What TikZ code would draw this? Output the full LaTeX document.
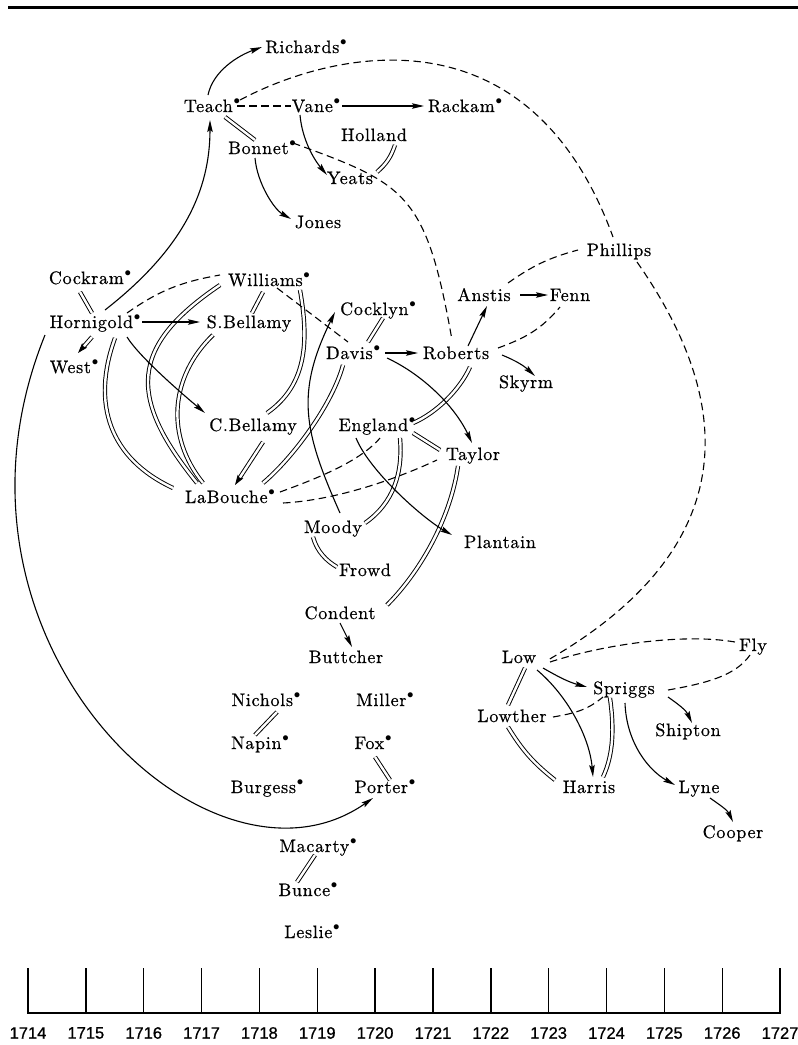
\documentclass[tikz,border=0pt]{standalone}
\usepackage{fontspec}
\usepackage{graphicx}
\usetikzlibrary{arrows.meta}
\newfontfamily\yearfont{Liberation Sans}[FakeBold=0.8]
\newfontfamily\nmfont{lmroman10-regular.otf}[LetterSpace=4,FakeBold=0.6]
\newcommand\dt{\kern0.8pt\raisebox{0.42em}{\scalebox{0.75}{$\bullet$}}}
\begin{document}
\begin{tikzpicture}[x=1pt,y=1pt,
  nm/.style={inner sep=0pt, text height=13.5pt, text depth=1.5pt,
    font=\nmfont\fontsize{18}{20}\selectfont},
  yr/.style={inner sep=0pt, font=\yearfont\fontsize{16.5}{18}\selectfont},
  con/.style={line width=1.1pt},
  tip/.style={-{Stealth[length=12pt,width=5.5pt,inset=2pt]}},
  arr/.style={con,tip},
  dsh/.style={con, dash pattern=on 7.5pt off 4.5pt},
  dbl/.style={double, double distance=2.4pt, line width=0.95pt},
  dblarr/.style={dbl,-{Stealth[length=10pt,width=6.5pt,inset=1.5pt]}},
]
\useasboundingbox (0,0) rectangle (798,-1045);
\fill[white] (0,0) rectangle (798,-1045);
\draw[line width=3pt] (8,-7) -- (798,-7);

% names
\node[nm] (richards) at (306,-47) {Richards\dt};
\node[nm] (teach) at (212,-106) {Teach\dt};
\node[nm] (vane) at (316,-106) {Vane\dt};
\node[nm] (rackam) at (465,-106) {Rackam\dt};
\node[nm] (holland) at (374,-135) {Holland};
\node[nm] (bonnet) at (262,-148) {Bonnet\dt};
\node[nm] (yeats) at (350,-178) {Yeats};
\node[nm] (jones) at (318,-222) {Jones};
\node[nm] (phillips) at (619,-250) {Phillips};
\node[nm] (cockram) at (90,-278) {Cockram\dt};
\node[nm] (williams) at (269,-280) {Williams\dt};
\node[nm] (hornigold) at (95,-322) {Hornigold\dt};
\node[nm] (sbellamy) at (249,-322) {S.Bellamy};
\node[nm] (cocklyn) at (378,-309) {Cocklyn\dt};
\node[nm] (anstis) at (484,-295) {Anstis};
\node[nm] (fenn) at (570,-295) {Fenn};
\node[nm] (davis) at (353,-353) {Davis\dt};
\node[nm] (roberts) at (456,-353) {Roberts};
\node[nm] (west) at (74,-367) {West\dt};
\node[nm] (skyrm) at (526,-382) {Skyrm};
\node[nm] (cbellamy) at (253,-425) {C.Bellamy};
\node[nm] (england) at (377,-425) {England\dt};
\node[nm] (taylor) at (473,-454) {Taylor};
\node[nm] (labouche) at (230,-497) {LaBouche\dt};
\node[nm] (moody) at (333,-527) {Moody};
\node[nm] (plantain) at (500,-542) {Plantain};
\node[nm] (frowd) at (365,-570) {Frowd};
\node[nm] (condent) at (340,-613) {Condent};
\node[nm] (buttcher) at (346,-657) {Buttcher};
\node[nm] (low) at (519,-657) {Low};
\node[nm] (fly) at (753,-645) {Fly};
\node[nm] (spriggs) at (624,-688) {Spriggs};
\node[nm] (nichols) at (266,-700) {Nichols\dt};
\node[nm] (miller) at (385,-700) {Miller\dt};
\node[nm] (lowther) at (512,-716) {Lowther};
\node[nm] (shipton) at (688,-730) {Shipton};
\node[nm] (napin) at (260,-743) {Napin\dt};
\node[nm] (fox) at (373,-743) {Fox\dt};
\node[nm] (burgess) at (267,-787) {Burgess\dt};
\node[nm] (porter) at (385,-787) {Porter\dt};
\node[nm] (harris) at (589,-787) {Harris};
\node[nm] (lyne) at (699,-787) {Lyne};
\node[nm] (cooper) at (733,-832) {Cooper};
\node[nm] (macarty) at (318,-846) {Macarty\dt};
\node[nm] (bunce) at (308,-890) {Bunce\dt};
\node[nm] (leslie) at (312,-932) {Leslie\dt};

% double lines
\draw[dbl] ([shift={(13,-11)}]teach.center) -- ([shift={(-7,8)}]bonnet.center);
\draw[dbl] ([shift={(21,-10)}]holland.center) to[bend left=15] ([shift={(27,6)}]yeats.center);
\draw[dbl] ([shift={(-10,-14)}]cockram.center) -- ([shift={(-3,9)}]hornigold.center);
\draw[dblarr] ([shift={(-3,-15)}]hornigold.center) -- ([shift={(4,14)}]west.center);
\draw[dbl] ([shift={(20,-16)}]hornigold.center) .. controls +(-110:70) and +(155:70) .. ([shift={(-57,9)}]labouche.center);
\draw[dbl] ([shift={(-49,-5)}]williams.center) .. controls +(214:110) and +(129:110) .. ([shift={(-33,14)}]labouche.center);
\draw[dbl] ([shift={(-36,-13)}]sbellamy.center) .. controls +(224:60) and +(129:60) .. ([shift={(-27,14)}]labouche.center);
\draw[dbl] ([shift={(-6,-12)}]williams.center) -- ([shift={(3,9)}]sbellamy.center);
\draw[dbl] ([shift={(31,-10)}]williams.center) .. controls +(-80:50) and +(35:50) .. ([shift={(14,12)}]cbellamy.center);
\draw[dblarr] ([shift={(10,-17)}]cbellamy.center) -- ([shift={(5,12)}]labouche.center);
\draw[dbl] ([shift={(33,14)}]labouche.center) .. controls +(40:40) and +(255:40) .. ([shift={(-10,-12)}]davis.center);
\draw[dbl] ([shift={(5,-9)}]cocklyn.center) -- ([shift={(15,11)}]davis.center);
\draw[dbl] ([shift={(14,-14)}]roberts.center) .. controls +(246:25) and +(23:25) .. ([shift={(36,2)}]england.center);
\draw[dbl] ([shift={(36,-8)}]england.center) -- ([shift={(-33,4)}]taylor.center);
\draw[dbl] ([shift={(23,-13)}]england.center) .. controls +(-85:35) and +(35:35) .. ([shift={(32,4)}]moody.center);
\draw[dbl] ([shift={(-15,-12)}]taylor.center) .. controls +(262:50) and +(45:50) .. ([shift={(47,8)}]condent.center);
\draw[dbl] ([shift={(-20,-10)}]moody.center) .. controls +(-75:15) and +(150:12) .. ([shift={(-28,3)}]frowd.center);
\draw[dbl] ([shift={(6,-11)}]low.center) -- ([shift={(-4,11)}]lowther.center);
\draw[dbl] ([shift={(-4,-11)}]lowther.center) to[bend right=10] ([shift={(-34,7)}]harris.center);
\draw[dbl] ([shift={(-14,-10)}]spriggs.center) .. controls +(-82:30) and +(65:25) .. ([shift={(14,10)}]harris.center);
\draw[dbl] ([shift={(11,-12)}]nichols.center) -- ([shift={(-5,8)}]napin.center);
\draw[dbl] ([shift={(2,-14)}]fox.center) -- ([shift={(5,7)}]porter.center);
\draw[dbl] ([shift={(-3,-9)}]macarty.center) -- ([shift={(-11,8)}]bunce.center);

% solid arrows
\draw[arr] ([shift={(-4,11)}]teach.center) .. controls +(78:25) and +(200:25) .. ([shift={(-44,0)}]richards.center);
\draw[arr] ([shift={(26,0)}]vane.center) -- ([shift={(-41,0)}]rackam.center);
\draw[arr] ([shift={(-16,-9)}]vane.center) .. controls +(-85:25) and +(130:20) .. ([shift={(-23,3)}]yeats.center);
\draw[arr] ([shift={(-7,-10)}]bonnet.center) .. controls +(-85:25) and +(150:20) .. ([shift={(-27,3)}]jones.center);
\draw[arr] ([shift={(10,12)}]hornigold.center) .. controls +(38:100) and +(-90:70) .. ([shift={(-2,-14)}]teach.center);
\draw[arr] ([shift={(-50,-13)}]hornigold.center) .. controls +(248:330) and +(215:200) .. ([shift={(-12,-11)}]porter.center);
\draw[arr] ([shift={(47,0)}]hornigold.center) -- ([shift={(-49,0)}]sbellamy.center);
\draw[arr] ([shift={(32,-15)}]hornigold.center) .. controls +(-58:25) and +(140:25) .. ([shift={(-48,12)}]cbellamy.center);
\draw[arr] ([shift={(7,14)}]moody.center) .. controls +(114:90) and +(244:90) .. ([shift={(-43,-3)}]cocklyn.center);
\draw[arr] ([shift={(32,0)}]davis.center) -- ([shift={(-38,0)}]roberts.center);
\draw[arr] ([shift={(34,-5)}]davis.center) .. controls +(-25:40) and +(115:40) .. ([shift={(-1,11)}]taylor.center);
\draw[arr] ([shift={(12,7)}]roberts.center) -- ([shift={(3,-11)}]anstis.center);
\draw[arr] ([shift={(36,0)}]anstis.center) -- ([shift={(-22,0)}]fenn.center);
\draw[arr] ([shift={(46,-2)}]roberts.center) to[bend left=10] ([shift={(9,6)}]skyrm.center);
\draw[arr] ([shift={(-21,-13)}]england.center) .. controls +(-68:35) and +(150:35) .. ([shift={(-48,7)}]plantain.center);
\draw[arr] ([shift={(0,-10)}]condent.center) -- ([shift={(6,10)}]buttcher.center);
\draw[arr] ([shift={(24,-11)}]low.center) to[out=-30,in=165] ([shift={(-37,1)}]spriggs.center);
\draw[arr] ([shift={(18,-13)}]low.center) .. controls +(-40:40) and +(95:40) .. ([shift={(4,10)}]harris.center);
\draw[arr] ([shift={(44,-9)}]spriggs.center) to[out=-35,in=115] ([shift={(4,7)}]shipton.center);
\draw[arr] ([shift={(1,-15)}]spriggs.center) .. controls +(-88:40) and +(151:30) .. ([shift={(-24,2)}]lyne.center);
\draw[arr] ([shift={(11,-11)}]lyne.center) to[out=-35,in=115] ([shift={(0,10)}]cooper.center);

% dashed links
\draw[dsh] ([shift={(25,0)}]teach.center) -- ([shift={(-25,0)}]vane.center);
\draw[dsh] ([shift={(28,6)}]teach.center) .. controls +(28:106) and +(110:246) .. ([shift={(-6,13)}]phillips.center);
\draw[dsh] ([shift={(31,5)}]bonnet.center) .. controls +(-20:120) and +(100:150) .. ([shift={(-4,13)}]roberts.center);
\draw[dsh] ([shift={(32,9)}]hornigold.center) to[out=35,in=190] ([shift={(-49,5)}]williams.center);
\draw[dsh] ([shift={(8,-8)}]williams.center) -- ([shift={(-5,11)}]davis.center);
\draw[dsh] ([shift={(24,12)}]anstis.center) to[out=35,in=195] ([shift={(-41,0)}]phillips.center);
\draw[dsh] ([shift={(42,5)}]roberts.center) to[out=20,in=230] ([shift={(-10,-12)}]fenn.center);
\draw[dsh] ([shift={(50,5)}]labouche.center) .. controls +(20:40) and +(230:30) .. ([shift={(3,-13)}]england.center);
\draw[dsh] ([shift={(53,-6)}]labouche.center) .. controls +(3:50) and +(205:50) .. ([shift={(-36,-6)}]taylor.center);
\draw[dsh] ([shift={(18,-12)}]phillips.center) .. controls +(-55:200) and +(30:200) .. ([shift={(29,-3)}]low.center);
\draw[dsh] ([shift={(31,-5)}]low.center) .. controls +(18:60) and +(170:50) .. ([shift={(-18,3)}]fly.center);
\draw[dsh] ([shift={(44,-2)}]spriggs.center) .. controls +(10:40) and +(235:25) .. ([shift={(-3,-10)}]fly.center);
\draw[dsh] ([shift={(41,-1)}]lowther.center) to[out=10,in=220] ([shift={(-21,-9)}]spriggs.center);

% time axis
\draw[line width=1.8pt] (28,-1013) -- (780,-1013);
\foreach \i in {0,...,13} {
  \draw[line width=1.4pt] (28+57.85*\i,-1013.9) -- (28+57.85*\i,-968);
  \pgfmathtruncatemacro\yy{1714+\i}
  \node[yr] (y\i) at (28+57.85*\i,-1033) {\yy};
}
\end{tikzpicture}
\end{document}
